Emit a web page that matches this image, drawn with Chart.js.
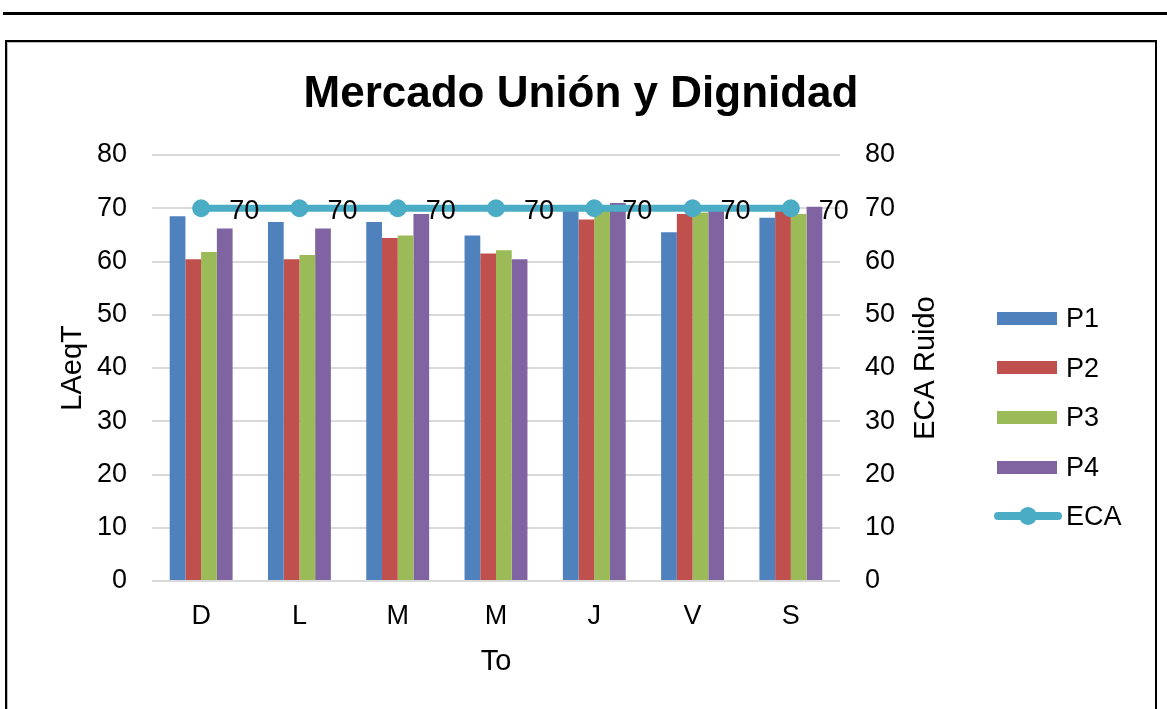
<!DOCTYPE html>
<html>
<head>
<meta charset="utf-8">
<script src="https://cdn.jsdelivr.net/npm/chart.js@4.4.1/dist/chart.umd.min.js"></script>
<style>
  html, body { margin:0; padding:0; background:#fff; width:1167px; height:709px; overflow:hidden; font-family:"Liberation Sans", Arial, sans-serif; }
  #topline { position:absolute; left:3px; top:12px; width:1164px; height:3px; background:#000; }
  #frame { position:absolute; left:5px; top:40px; width:1148px; height:720px; border:2px solid #000; box-shadow: inset 1px 1px 0 #bbb; }
  #c { position:absolute; left:8px; top:43px; }
  #legend { position:absolute; left:0; top:0; width:1167px; height:709px; pointer-events:none; }
  .li { position:absolute; left:994px; height:30px; display:flex; align-items:center; }
  .sw { width:60px; height:13px; margin-left:3px; }
  .lt { position:absolute; left:72px; font-size:27px; color:#000; white-space:nowrap; line-height:30px; top:0; }
  .ln { position:relative; width:68px; height:8px; border-radius:4px; background:#4BACC6; }
  .ln::after { content:""; position:absolute; left:25px; top:-5px; width:18px; height:18px; border-radius:50%; background:#4BACC6; }
</style>
</head>
<body>
<div id="topline"></div>
<div id="frame"></div>
<canvas id="c" width="1146" height="666"></canvas>
<div id="legend"></div>
<script>
const categories = ['D','L','M','M','J','V','S'];
const P1 = [68.5, 67.4, 67.4, 64.9, 70.0, 65.5, 68.2];
const P2 = [60.4, 60.4, 64.4, 61.5, 67.9, 68.9, 69.8];
const P3 = [61.8, 61.2, 64.9, 62.1, 70.2, 69.2, 68.9];
const P4 = [66.2, 66.2, 68.9, 60.4, 71.0, 69.8, 70.3];
const ECA = [70, 70, 70, 70, 70, 70, 70];
const seriesNames = ['P1','P2','P3','P4','ECA'];
const colors = ['#4F81BD','#C0504D','#9BBB59','#8064A2','#4BACC6'];
const chartTitle = 'Mercado Unión y Dignidad';
const yTitle = 'LAeqT';
const y2Title = 'ECA Ruido';
const xTitle = 'To';

const FONT = '"Liberation Sans", Arial, sans-serif';

const labelPlugin = {
  id: 'ecaLabels',
  afterDatasetsDraw(chart) {
    const ctx = chart.ctx;
    const meta = chart.getDatasetMeta(4);
    ctx.save();
    ctx.font = '27px ' + FONT;
    ctx.fillStyle = '#000';
    ctx.textAlign = 'left';
    ctx.textBaseline = 'middle';
    meta.data.forEach((pt, i) => {
      ctx.fillText(String(ECA[i]), pt.x + 28, pt.y + 3);
    });
    ctx.restore();
  }
};

const rightTitlePlugin = {
  id: 'rightTitle',
  afterDraw(chart) {
    const ctx = chart.ctx;
    const area = chart.chartArea;
    ctx.save();
    ctx.translate(918, (area.top + area.bottom) / 2);
    ctx.rotate(-Math.PI / 2);
    ctx.font = '29px ' + FONT;
    ctx.fillStyle = '#000';
    ctx.textAlign = 'center';
    ctx.textBaseline = 'middle';
    ctx.fillText(y2Title, 0, 0);
    ctx.restore();
  }
};

const barSets = [P1, P2, P3, P4].map((d, i) => ({
  type: 'bar',
  label: seriesNames[i],
  data: d,
  backgroundColor: colors[i],
  borderWidth: 0,
  categoryPercentage: 0.64,
  barPercentage: 1.0,
  yAxisID: 'y',
  order: 1
}));

new Chart(document.getElementById('c'), {
  data: {
    labels: categories,
    datasets: [...barSets, {
      type: 'line',
      label: seriesNames[4],
      data: ECA,
      borderColor: colors[4],
      backgroundColor: colors[4],
      borderWidth: 7,
      pointRadius: 9,
      pointBackgroundColor: colors[4],
      pointBorderWidth: 0,
      yAxisID: 'y2',
      order: 0
    }]
  },
  options: {
    responsive: false,
    animation: false,
    devicePixelRatio: 1,
    layout: { padding: 0 },
    plugins: {
      legend: { display: false },
      tooltip: { enabled: false },
      title: {
        display: true,
        text: chartTitle,
        color: '#000',
        font: { family: FONT, size: 44, weight: 'bold' },
        padding: { top: 25, bottom: 34.2 }
      }
    },
    scales: {
      x: {
        grid: { display: false },
        border: { display: false },
        ticks: { color: '#000', font: { family: FONT, size: 27 }, padding: 11 },
        title: { display: true, text: xTitle, color: '#000', font: { family: FONT, size: 29 }, padding: { top: 0, bottom: 30 } },
        afterFit(s) { s.height = 128; }
      },
      y: {
        position: 'left',
        min: 0, max: 80,
        ticks: { stepSize: 10, color: '#000', font: { family: FONT, size: 27 }, padding: 25 },
        grid: { color: '#D9D9D9', lineWidth: 2, drawTicks: false },
        border: { display: false },
        title: { display: true, text: yTitle, color: '#000', font: { family: FONT, size: 29 }, padding: { top: 48, bottom: 0 } },
        afterFit(s) { s.width = 144; }
      },
      y2: {
        position: 'right',
        min: 0, max: 80,
        ticks: { stepSize: 10, color: '#000', font: { family: FONT, size: 27 }, padding: 25 },
        grid: { drawOnChartArea: false, drawTicks: false },
        border: { display: false },
        afterFit(s) { s.width = 314; }
      }
    }
  },
  plugins: [labelPlugin, rightTitlePlugin]
});

// Legend (HTML)
const legendY = [318, 367.5, 417, 467, 516];
const lg = document.getElementById('legend');
seriesNames.forEach((n, i) => {
  const item = document.createElement('div');
  item.className = 'li';
  item.style.top = (legendY[i] - 15) + 'px';
  const sw = document.createElement('div');
  if (i < 4) { sw.className = 'sw'; sw.style.background = colors[i]; }
  else { sw.className = 'ln'; }
  item.appendChild(sw);
  const t = document.createElement('div');
  t.className = 'lt';
  t.textContent = n;
  item.appendChild(t);
  lg.appendChild(item);
});
</script>
</body>
</html>
